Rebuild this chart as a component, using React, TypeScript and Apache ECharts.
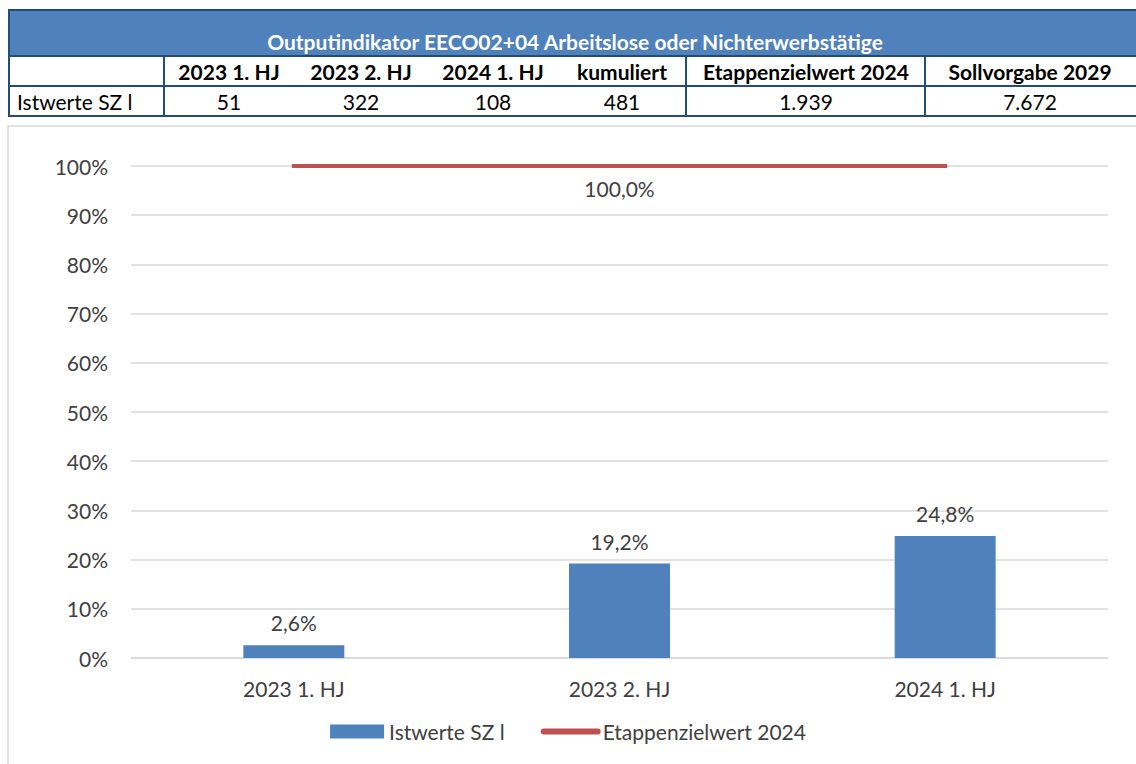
import React, { useEffect, useRef } from "react";
import * as echarts from "echarts";

const categories = ["2023 1. HJ", "2023 2. HJ", "2024 1. HJ"];
const istwerte = [2.6, 19.2, 24.8];
const etappenziel = [100, 100, 100];
const tableTitle = "Outputindikator EECO02+04 Arbeitslose oder Nichterwerbstätige";
const tableHeaders = ["2023 1. HJ", "2023 2. HJ", "2024 1. HJ", "kumuliert", "Etappenzielwert 2024", "Sollvorgabe 2029"];
const tableRowLabel = "Istwerte SZ l";
const tableValues = ["51", "322", "108", "481", "1.939", "7.672"];

const FONT = "Lato";
const FS = 21;

export default function App() {
  const ref = useRef<HTMLDivElement>(null);
  useEffect(() => {
    const chart = echarts.init(ref.current!, null, { renderer: "svg" });
    const colCenters = [229, 361, 493, 622, 806, 1030];
    const border = "#1F4E79";
    const graphics: any[] = [
      { type: "rect", shape: { x: 9, y: 10, width: 1140, height: 46 }, style: { fill: "#4F81BD", stroke: border, lineWidth: 2 }, z: 1 },
      { type: "rect", shape: { x: 9, y: 56, width: 1140, height: 60 }, style: { fill: "#fff", stroke: border, lineWidth: 2 }, z: 1 },
      { type: "line", shape: { x1: 9, y1: 86, x2: 1140, y2: 86 }, style: { stroke: border, lineWidth: 2 }, z: 2 },
      { type: "line", shape: { x1: 164, y1: 56, x2: 164, y2: 116 }, style: { stroke: border, lineWidth: 2 }, z: 2 },
      { type: "line", shape: { x1: 686, y1: 56, x2: 686, y2: 116 }, style: { stroke: border, lineWidth: 2 }, z: 2 },
      { type: "line", shape: { x1: 925, y1: 56, x2: 925, y2: 116 }, style: { stroke: border, lineWidth: 2 }, z: 2 },
      { type: "text", x: 575, y: 41, style: { text: tableTitle, fill: "#fff", font: `bold ${FS}px ${FONT}`, align: "center", verticalAlign: "middle" }, z: 3 },
      { type: "text", x: 17, y: 101, style: { text: tableRowLabel, fill: "#000", font: `${FS}px ${FONT}`, align: "left", verticalAlign: "middle" }, z: 3 },
      { type: "rect", shape: { x: 8, y: 126, width: 1140, height: 645 }, style: { fill: "none", stroke: "#D9D9D9", lineWidth: 1.5 }, z: 0 },
    ];
    tableHeaders.forEach((h, i) => {
      graphics.push({ type: "text", x: colCenters[i], y: 71, style: { text: h, fill: "#000", font: `bold ${FS}px ${FONT}`, align: "center", verticalAlign: "middle" }, z: 3 });
    });
    tableValues.forEach((v, i) => {
      graphics.push({ type: "text", x: colCenters[i], y: 101, style: { text: v, fill: "#000", font: `${FS}px ${FONT}`, align: "center", verticalAlign: "middle" }, z: 3 });
    });

    const pct = (p: any) => p.value.toFixed(1).replace(".", ",") + "%";

    chart.setOption({
      animation: false,
      textStyle: { fontFamily: FONT },
      graphic: graphics,
      grid: { left: 131, right: 28, top: 166, bottom: 106 },
      legend: {
        top: 716,
        left: "center",
        itemGap: 36,
        textStyle: { fontSize: FS, color: "#404040", fontFamily: FONT },
        data: [
          { name: "Istwerte SZ l", icon: "rect", itemStyle: { color: "#4F81BD" } },
          { name: "Etappenzielwert 2024", itemStyle: { opacity: 0 }, lineStyle: { width: 6, cap: "round", color: "#C0504D" } },
        ],
        itemWidth: 54,
        itemHeight: 14,
      },
      xAxis: {
        type: "category",
        data: categories,
        axisLine: { lineStyle: { color: "#D9D9D9", width: 1.5 } },
        axisTick: { show: false },
        axisLabel: { color: "#404040", fontSize: FS, margin: 20, fontFamily: FONT },
      },
      yAxis: {
        type: "value",
        min: 0,
        max: 100,
        interval: 10,
        axisLabel: { formatter: "{value}%", color: "#404040", fontSize: FS, margin: 23, fontFamily: FONT },
        splitLine: { lineStyle: { color: "#D9D9D9", width: 1.5 } },
        axisLine: { show: false },
        axisTick: { show: false },
      },
      series: [
        {
          name: "Istwerte SZ l",
          type: "bar",
          data: istwerte,
          barWidth: "31%",
          itemStyle: { color: "#4F81BD" },
          label: {
            show: true,
            position: "top",
            distance: 12,
            color: "#404040",
            fontSize: FS,
            fontFamily: FONT,
            formatter: pct,
          },
        },
        {
          name: "Etappenzielwert 2024",
          type: "line",
          data: etappenziel.map((v, i) => ({
            value: v,
            label: { show: i === 1 },
          })),
          symbol: "circle",
          symbolSize: 0,
          showSymbol: true,
          lineStyle: { color: "#C0504D", width: 4, cap: "square" },
          itemStyle: { color: "#C0504D" },
          label: {
            show: false,
            position: "bottom",
            distance: 12,
            color: "#404040",
            fontSize: FS,
            fontFamily: FONT,
            formatter: pct,
          },
          z: 3,
        },
      ],
    });
    return () => chart.dispose();
  }, []);
  return (
    <div style={{ position: "absolute", left: 0, top: 0, width: 1136, height: 764, background: "#fff" }}>
      <div ref={ref} style={{ width: 1136, height: 764 }} />
    </div>
  );
}
